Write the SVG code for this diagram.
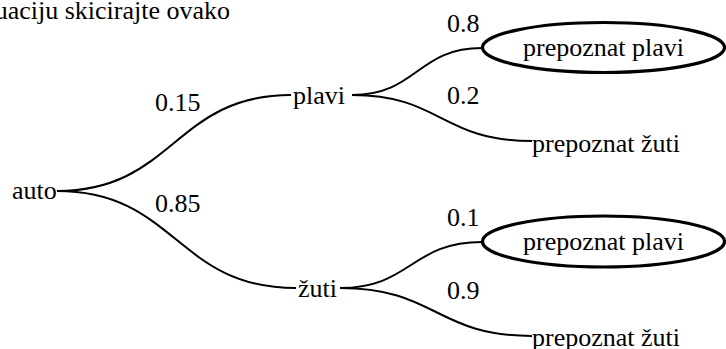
<svg xmlns="http://www.w3.org/2000/svg" width="726" height="349" viewBox="0 0 726 349">
<style>
text{font-family:'Liberation Serif','Times New Roman',serif;font-size:26px;fill:#000}
.c{fill:none;stroke:#000;stroke-width:2}
.e{fill:#fff;stroke:#000;stroke-width:3.2}
</style>
<rect width="726" height="349" fill="#fff"/>
<text x="230" y="19" text-anchor="end">uaciju skicirajte ovako</text>
<g id="connectors">
<path class="c" d="M57,191 C174,191 174,95 291,95"/>
<path class="c" d="M57,191 C176,191 176,288 296,288"/>
<path class="c" d="M352,95 C417,95 417,48 482,48"/>
<path class="c" d="M352,95 C441,95 441,141 532,141"/>
<path class="c" d="M340,288 C411,288 411,242 482,242"/>
<path class="c" d="M340,288 C436,288 436,336 532,336"/>
</g>
<g id="labels">
<text x="155" y="111">0.15</text>
<text x="155" y="212">0.85</text>
<text x="447" y="32">0.8</text>
<text x="447" y="104">0.2</text>
<text x="447" y="226">0.1</text>
<text x="447" y="299">0.9</text>
</g>
<g id="auto"><text x="12" y="199">auto</text></g>
<g id="plavi"><text x="293" y="104">plavi</text></g>
<g id="zuti"><text x="298" y="297">žuti</text></g>
<g id="pp1"><ellipse class="e" cx="603.5" cy="47.5" rx="121" ry="25"/><text x="603.5" y="56" text-anchor="middle">prepoznat plavi</text></g>
<g id="pz1"><text x="532" y="152">prepoznat žuti</text></g>
<g id="pp2"><ellipse class="e" cx="603.5" cy="241.5" rx="121" ry="25.5"/><text x="603.5" y="250" text-anchor="middle">prepoznat plavi</text></g>
<g id="pz2"><text x="532" y="346">prepoznat žuti</text></g>
</svg>
